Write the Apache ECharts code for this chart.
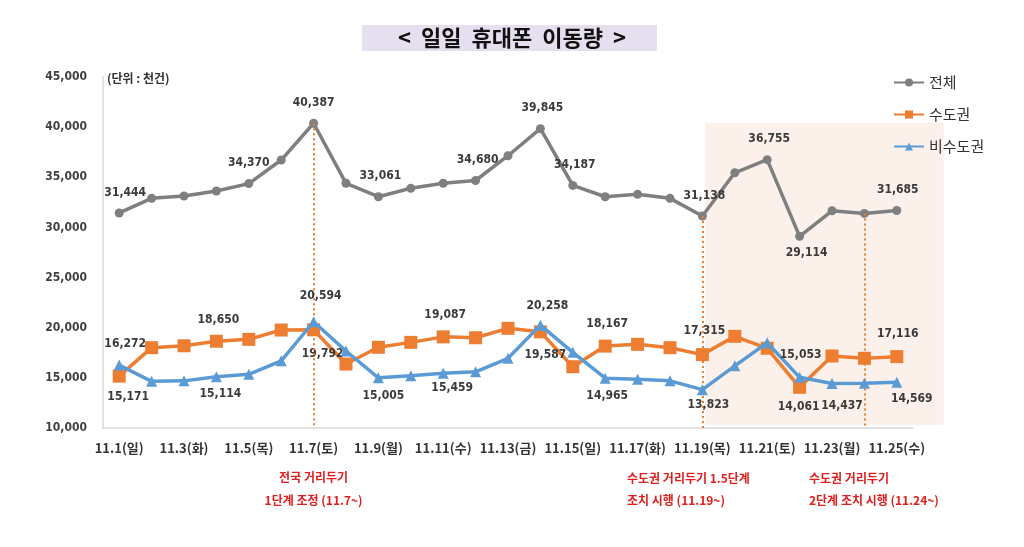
<!DOCTYPE html>
<html><head><meta charset="utf-8">
<script src="https://cdn.jsdelivr.net/npm/echarts@6/dist/echarts.min.js"></script>
<style>html,body{margin:0;padding:0;background:#fff}#c{width:1024px;height:547px}</style>
</head><body><div id="c"></div>
<script>
const categories = ['11.1(일)','11.2','11.3(화)','11.4','11.5(목)','11.6','11.7(토)','11.8','11.9(월)','11.10','11.11(수)','11.12','11.13(금)','11.14','11.15(일)','11.16','11.17(화)','11.18','11.19(목)','11.20','11.21(토)','11.22','11.23(월)','11.24','11.25(수)'];
const total = [31444,32900,33130,33630,34370,36720,40387,34400,33061,33900,34400,34680,37150,39845,34187,33060,33300,32900,31138,35450,36755,29114,31660,31400,31685];
const capital = [15171,18010,18200,18650,18840,19770,19792,16380,18050,18540,19087,19000,19940,19587,16110,18167,18340,18010,17315,19140,17950,14061,17180,16950,17116];
const nonCapital = [16272,14650,14700,15114,15350,16700,20594,17680,15005,15200,15459,15600,16950,20258,17550,14965,14850,14700,13823,16200,18500,15053,14437,14450,14569];
const yTicks = [10000,15000,20000,25000,30000,35000,40000,45000];
const seriesNames = ['전체','수도권','비수도권'];
const markerDays = [6,18,23];

// label placement (index -> [position, dx, dy])
const totalLbl = {0:['top',6,-4],4:['top',0,-4],6:['top',0,-4],8:['top',2,-4],11:['top',2,-4],13:['top',2,-4],14:['top',2,-4],18:['top',2,-4],20:['top',2,-4],21:['bottom',7,0],24:['top',1,-4]};
const capLbl = {0:['bottom',9,2],3:['top',2,-3],6:['bottom',9,6],10:['top',2,-3],13:['bottom',5,5],15:['top',2,-4],18:['top',2,-5],21:['bottom',-1,1],24:['top',1,-4]};
const nonLbl = {0:['top',6,-4],3:['bottom',4,0],6:['top',7,-8],8:['bottom',5,1],10:['bottom',9,-3],13:['top',7,-2],15:['bottom',2,0],18:['bottom',6,-2],21:['top',1,-5],22:['bottom',10,5],24:['bottom',15,-1]};
const fmt = v => v.toLocaleString('en-US');
function mk(arr, lbl){
  return arr.map((v,i)=>{
    const o = {value:v};
    if(lbl[i]){
      const p = lbl[i];
      o.label = {show:true, position:p[0], offset:[p[1],p[2]]};
    }
    return o;
  });
}
const narrow = '"DejaVu Sans Condensed","Liberation Sans Narrow","Noto Sans",sans-serif';
const lblStyle = {show:false, formatter:p=>fmt(p.value), color:'#3a3a3a', fontSize:12, fontWeight:'bold', fontFamily:narrow, distance:6};
const chart = echarts.init(document.getElementById('c'));
const font = '"Noto Sans CJK KR","Noto Sans",sans-serif';
chart.setOption({
  animation:false,
  textStyle:{fontFamily:font},
  grid:{left:103,right:111,top:77,bottom:119},
  legend:{orient:'vertical',left:888,top:70,itemWidth:30,itemHeight:10,itemGap:17,
    textStyle:{fontSize:15,color:'#333',fontFamily:font},
    data:seriesNames},
  xAxis:{type:'category',data:categories,boundaryGap:true,
    axisLine:{lineStyle:{color:'#d9d9d9',width:1.5}},axisTick:{show:false},
    axisLabel:{interval:1,color:'#333',fontSize:13,fontWeight:'bold',margin:14,fontFamily:font}},
  yAxis:{type:'value',min:10000,max:45000,interval:5000,
    axisLine:{show:true,lineStyle:{color:'#d9d9d9',width:1.5}},axisTick:{show:false},splitLine:{show:false},
    axisLabel:{formatter:v=>fmt(v),color:'#404040',fontSize:12,fontWeight:'bold',margin:16,fontFamily:narrow}},
  series:[
    {name:seriesNames[0],type:'line',data:mk(total,totalLbl),symbol:'circle',symbolSize:9,
      itemStyle:{color:'#7f7f7f'},lineStyle:{color:'#7f7f7f',width:3.5},label:lblStyle,z:3,
      markLine:{silent:true,symbol:'none',label:{show:false},
        lineStyle:{color:'#e87d2f',type:[2,3],width:2},
        data:markerDays.map(i=>[{coord:[i,total[i]]},{coord:[i,10000]}])}},
    {name:seriesNames[1],type:'line',data:mk(capital,capLbl),symbol:'rect',symbolSize:13,
      itemStyle:{color:'#ed7d31'},lineStyle:{color:'#ed7d31',width:3.5},label:lblStyle,z:4},
    {name:seriesNames[2],type:'line',data:mk(nonCapital,nonLbl),symbol:'triangle',symbolSize:11,
      itemStyle:{color:'#5b9bd5'},lineStyle:{color:'#5b9bd5',width:3.5},label:lblStyle,z:5}
  ]
});
const x0 = chart.convertToPixel({xAxisIndex:0},18);
const x1 = chart.convertToPixel({xAxisIndex:0},24);
const yT = chart.convertToPixel({yAxisIndex:0},40450);
const yB = chart.convertToPixel({yAxisIndex:0},10300);
const xm7 = chart.convertToPixel({xAxisIndex:0},6);
const red = '#e02020';
const ann = (x,y,t,align)=>({type:'text',x:x,y:y,z:10,style:{text:t,fill:red,font:'bold 12px '+font,textAlign:align,textVerticalAlign:'middle'}});
chart.setOption({graphic:[
  {type:'rect',shape:{x:x0+3,y:yT,width:(x1-x0)+44,height:yB-yT},style:{fill:'#fcf1ea'},z:-10,silent:true},
  {type:'rect',shape:{x:362,y:25,width:295,height:26},style:{fill:'#e6dff0'},z:1},
  {type:'text',x:512,y:38,z:2,style:{text:'<  일일  휴대폰  이동량  >',fill:'#111',font:'bold 22px '+font,textAlign:'center',textVerticalAlign:'middle'}},
  {type:'text',x:107,y:78,z:2,style:{text:'(단위 : 천건)',fill:'#333',font:'bold 12px '+font,textAlign:'left',textVerticalAlign:'middle'}},
  ann(xm7,477,'전국 거리두기','center'),
  ann(xm7,500,'1단계 조정 (11.7~)','center'),
  ann(627,478,'수도권 거리두기 1.5단계','left'),
  ann(627,500,'조치 시행 (11.19~)','left'),
  ann(809,478,'수도권 거리두기','left'),
  ann(809,500,'2단계 조치 시행 (11.24~)','left')
]});
</script></body></html>
